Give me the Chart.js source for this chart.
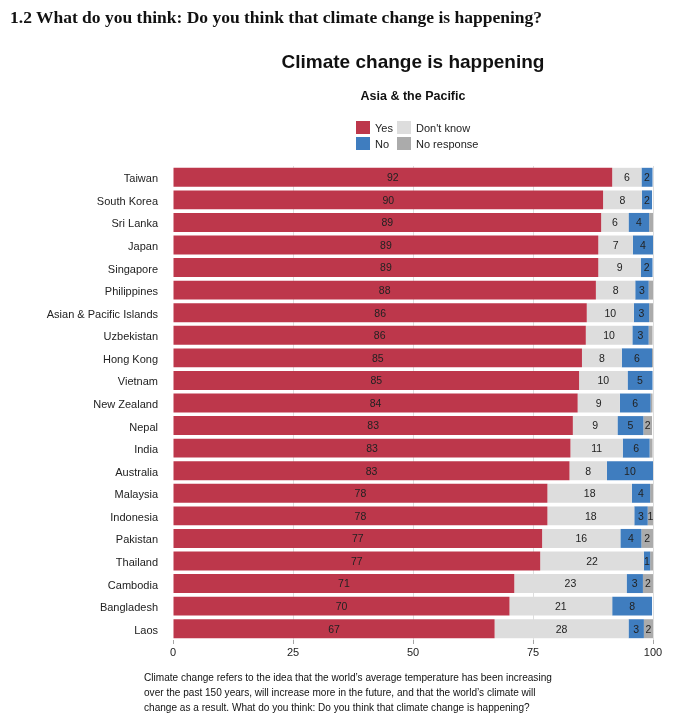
<!DOCTYPE html>
<html>
<head>
<meta charset="utf-8">
<script src="https://cdn.jsdelivr.net/npm/chart.js@4"></script>
<style>
  html, body { margin: 0; padding: 0; background: #fff; }
  #wrap { position: relative; width: 687px; height: 725px; overflow: hidden; }
  #chart { position: absolute; left: 0; top: 0; }
  .t { position: absolute; white-space: nowrap; color: #111; }
  #heading { left: 10px; top: 7px; font-family: "Liberation Serif", "DejaVu Serif", serif; font-weight: bold; font-size: 17.5px; }
  #title { left: 413px; top: 51px; transform: translateX(-50%); font-family: "Liberation Sans", Arial, sans-serif; font-weight: bold; font-size: 19px; }
  #subtitle { left: 413px; top: 89px; transform: translateX(-50%); font-family: "Liberation Sans", Arial, sans-serif; font-weight: bold; font-size: 12.5px; }
  #legend { position: absolute; left: 356px; top: 121px; font-family: "Liberation Sans", Arial, sans-serif; font-size: 11px; color: #222; }
  .li { position: absolute; white-space: nowrap; height: 14px; line-height: 14px; }
  .sw { display: inline-block; width: 14px; height: 13px; vertical-align: top; margin-right: 5px; }
  #foot { left: 144px; top: 670px; font-family: "Liberation Sans", Arial, sans-serif; font-size: 11.2px; line-height: 15px; color: #111; transform: scaleX(0.9); transform-origin: 0 0; }
</style>
</head>
<body>
<div id="wrap">
  <canvas id="chart" width="687" height="725"></canvas>
  <div class="t" id="heading"></div>
  <div class="t" id="title"></div>
  <div class="t" id="subtitle"></div>
  <div id="legend"></div>
  <div class="t" id="foot"></div>
</div>
<script>
const headingText = "1.2 What do you think: Do you think that climate change is happening?";
const chartTitle = "Climate change is happening";
const chartSubtitle = "Asia & the Pacific";
const footnoteLines = [
  "Climate change refers to the idea that the world\u2019s average temperature has been increasing",
  "over the past 150 years, will increase more in the future, and that the world\u2019s climate will",
  "change as a result. What do you think: Do you think that climate change is happening?"
];

const categories = ["Taiwan", "South Korea", "Sri Lanka", "Japan", "Singapore", "Philippines",
  "Asian & Pacific Islands", "Uzbekistan", "Hong Kong", "Vietnam", "New Zealand", "Nepal",
  "India", "Australia", "Malaysia", "Indonesia", "Pakistan", "Thailand", "Cambodia",
  "Bangladesh", "Laos"];

const seriesNames = ["Yes", "Don't know", "No", "No response"];
const yesValues = [91.5, 89.6, 89.2, 88.6, 88.6, 88.1, 86.2, 86.0, 85.2, 84.6, 84.3, 83.3,
  82.8, 82.6, 78.0, 78.0, 76.9, 76.5, 71.1, 70.1, 67.0];
const dontKnowValues = [6.1, 8.1, 5.7, 7.2, 8.9, 8.2, 9.8, 9.7, 8.3, 10.1, 8.8, 9.3,
  10.9, 7.8, 17.6, 18.1, 16.3, 21.6, 23.4, 21.4, 27.9];
const noValues = [2.3, 2.1, 4.3, 4.2, 2.4, 2.8, 3.2, 3.4, 6.3, 5.2, 6.4, 5.4,
  5.6, 9.6, 3.8, 2.8, 4.4, 1.3, 3.4, 8.3, 3.2];
const noResponseValues = [0, 0, 0.8, 0, 0, 0.9, 0.8, 0.8, 0.2, 0, 0.4, 1.8,
  0.6, 0, 0.6, 1.1, 2.4, 0.6, 2.1, 0, 1.9];
const seriesColors = ["#BD374B", "#DDDDDD", "#3F7DBF", "#ABABAB"];
const xTicks = [0, 25, 50, 75, 100];

document.getElementById("heading").textContent = headingText;
document.getElementById("title").textContent = chartTitle;
document.getElementById("subtitle").textContent = chartSubtitle;
const footEl = document.getElementById("foot");
footnoteLines.forEach((l, i) => {
  if (i) footEl.appendChild(document.createElement("br"));
  footEl.appendChild(document.createTextNode(l));
});

// legend: 2 columns (Yes / No) and (Don't know / No response)
const legendLayout = [[0, 0, 0], [2, 0, 16], [1, 41, 0], [3, 41, 16]];
const legendEl = document.getElementById("legend");
legendLayout.forEach(([i, x, y]) => {
  const d = document.createElement("div");
  d.className = "li";
  d.style.left = x + "px";
  d.style.top = y + "px";
  const sw = document.createElement("span");
  sw.className = "sw";
  sw.style.background = seriesColors[i];
  d.appendChild(sw);
  d.appendChild(document.createTextNode(seriesNames[i]));
  legendEl.appendChild(d);
});

const seriesValues = [yesValues, dontKnowValues, noValues, noResponseValues];

const barLabels = {
  id: "barLabels",
  afterDatasetsDraw(chart) {
    const ctx = chart.ctx;
    ctx.save();
    ctx.font = "10.5px 'Liberation Sans', Arial, sans-serif";
    ctx.fillStyle = "#222";
    ctx.textAlign = "center";
    ctx.textBaseline = "middle";
    chart.data.datasets.forEach((ds, di) => {
      const meta = chart.getDatasetMeta(di);
      meta.data.forEach((bar, i) => {
        const v = ds.data[i];
        if (v < 1) return;
        const left = Math.min(bar.x, bar.base);
        const right = Math.max(bar.x, bar.base);
        ctx.fillText(String(Math.round(v)), (left + right) / 2, bar.y + 1);
      });
    });
    ctx.restore();
  }
};

new Chart(document.getElementById("chart"), {
  type: "bar",
  data: {
    labels: categories,
    datasets: seriesNames.map((name, i) => ({
      label: name,
      data: seriesValues[i],
      backgroundColor: seriesColors[i],
      borderWidth: 0,
      barPercentage: 0.84,
      categoryPercentage: 1.0
    }))
  },
  options: {
    indexAxis: "y",
    responsive: false,
    animation: false,
    layout: { padding: { left: 0, right: 34, top: 166, bottom: 60 } },
    plugins: {
      legend: { display: false },
      tooltip: { enabled: false },
      title: { display: false }
    },
    scales: {
      x: {
        stacked: true,
        min: 0,
        max: 100,
        z: 1,
        afterBuildTicks(scale) { scale.ticks = xTicks.map(v => ({ value: v })); },
        afterFit(scale) { scale.height = 25; },
        border: { display: false },
        grid: {
          color: ctx => ctx.tick && ctx.tick.value === 0 ? "rgba(0,0,0,0)" : "rgba(0,0,0,0.13)",
          tickColor: "rgba(0,0,0,0.35)",
          tickLength: 4,
          lineWidth: 1
        },
        ticks: {
          padding: 2,
          color: "#222",
          font: { family: "'Liberation Sans', Arial, sans-serif", size: 11 }
        }
      },
      y: {
        stacked: true,
        afterFit(scale) { scale.width = 173; },
        border: { display: false },
        grid: { display: false, drawTicks: false },
        ticks: {
          padding: 15,
          labelOffset: 2,
          color: "#222",
          font: { family: "'Liberation Sans', Arial, sans-serif", size: 11 }
        }
      }
    }
  },
  plugins: [barLabels]
});
</script>
</body>
</html>
